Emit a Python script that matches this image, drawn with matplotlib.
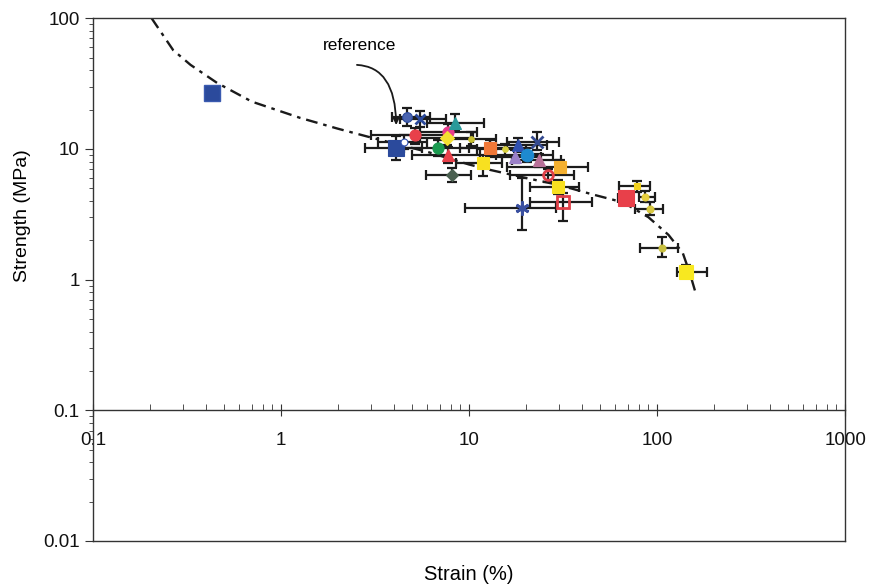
"""
Strength vs strain, log-log, with error bars and a dash-dot trend curve.
"""

import matplotlib
matplotlib.use("Agg")
import matplotlib.pyplot as plt
import matplotlib.ticker as mticker

# ── Data ──────────────────────────────────────────────────────────────────────

# lone point at low strain (no error bars)
SOLO_X = [0.43]
SOLO_Y = [27.0]

STRAIN   = [4.1, 4.7, 5.5, 5.16, 4.5, 6.8, 7.7, 8.4, 7.6, 7.7, 8.1, 12.9, 11.9, 10.3,
            15.5, 18.2, 23.0, 20.4, 17.6, 23.5, 30.5, 26.3, 29.7, 31.6, 19.1,
            68.0, 78.0, 86.0, 92.0, 106.0, 143.0]
STRENGTH = [10.1, 17.5, 17.0, 12.8, 11.3, 10.1, 13.5, 15.8, 12.1, 9.0, 6.3, 10.1, 7.8, 12.0,
            9.9, 10.7, 11.3, 9.0, 8.7, 8.2, 7.3, 6.3, 5.1, 3.9, 3.55,
            4.2, 5.2, 4.3, 3.45, 1.75, 1.15]
STRAIN_LO = [2.8, 3.9, 4.3, 3.0, 3.3, 4.5, 5.5, 6.0, 5.5, 5.0, 5.9, 9.0, 8.5, 7.5,
             11.0, 13.0, 16.0, 14.0, 12.5, 17.0, 16.0, 16.5, 21.0, 21.0, 9.5,
             62.0, 63.0, 80.0, 76.0, 81.0, 128.0]
STRAIN_HI = [5.6, 6.2, 7.5, 8.0, 6.0, 10.0, 11.0, 12.0, 10.5, 11.5, 10.3, 18.0, 15.0, 14.0,
             20.0, 26.0, 30.0, 28.0, 24.0, 31.0, 43.0, 36.0, 38.6, 45.0, 29.0,
             74.0, 92.0, 98.0, 107.0, 130.0, 184.0]
STRENGTH_LO = [8.2, 15.0, 14.8, 11.0, 10.0, 8.8, 12.0, 13.8, 10.8, 7.8, 5.6, 8.8, 6.2, 10.5,
               8.9, 9.5, 9.8, 8.0, 7.8, 7.3, 6.5, 5.6, 4.5, 2.8, 2.4,
               3.9, 4.7, 3.9, 3.1, 1.5, 1.02]
STRENGTH_HI = [12.5, 20.5, 19.5, 14.5, 12.8, 11.6, 15.5, 18.5, 13.5, 10.3, 7.1, 11.8, 9.0, 13.5,
               11.0, 12.2, 13.5, 10.2, 9.8, 9.2, 8.2, 7.0, 5.8, 4.6, 6.0,
               4.5, 5.7, 4.8, 3.9, 2.1, 1.3]
COLORS  = ["#2b4a9c", "#4a64b0", "#2b4a9c", "#e8404a", "#ffffff", "#1a9a50", "#e83c8c",
           "#2a9a9a", "#f4e030", "#e8404a", "#4a6050", "#f07838", "#f8e020", "#c8c030",
           "#d8d040", "#3050b0", "#354a90", "#1e8ad0", "#9a80c8", "#b87098", "#f4b030",
           "none", "#f8e020", "none", "#3a50a0",
           "#e8404a", "#f0d020", "#e8d040", "#d8c840", "#c8c040", "#f8e820"]
EDGES   = ["#2b4a9c", "#2b4a9c", "#2b4a9c", "#e8404a", "#3050b0", "#1a9a50", "#e83c8c",
           "#2a9a9a", "#f4e030", "#e8404a", "#4a6050", "#f07838", "#f8e020", "#c8c030",
           "#d8d040", "#3050b0", "#354a90", "#1e8ad0", "#9a80c8", "#b87098", "#f4b030",
           "#e04048", "#f8e020", "#e04048", "#3a50a0",
           "#e8404a", "#f0d020", "#e8d040", "#d8c840", "#c8c040", "#f8e820"]
MARKERS = ["s", "o", "x", "o", "o", "o", "o", "^", "D", "^", "D", "s", "s", "o",
           "o", "^", "x", "o", "^", "^", "s", "o", "s", "s", (6, 2, 0),
           "s", "s", "o", "o", "o", "s"]
SIZES   = [11, 7, 7, 8, 5, 8, 8, 8, 7, 8, 6, 8, 9, 4,
           4, 8, 8, 9, 8, 8, 9, 7, 8, 9, 10,
           12, 5, 5, 5, 5, 10]

# dash-dot trend curve
CURVE_X = [0.205, 0.267, 0.33, 0.457, 0.7, 1.26, 2.0, 2.9, 4.0, 6.0, 10.0, 13.0,
           20.0, 30.0, 45.0, 66.0, 90.0, 115.0, 137.0, 150.0, 160.0]
CURVE_Y = [100.0, 57.0, 44.0, 32.0, 23.0, 17.3, 14.3, 12.4, 11.0, 9.5, 7.6, 6.9,
           6.0, 5.3, 4.5, 3.9, 3.0, 2.2, 1.6, 1.1, 0.8]

X_TICKS = [0.1, 1, 10, 100, 1000]
Y_TICKS = [0.01, 0.1, 1, 10, 100]

AXIS_COLOR = "#333333"


def _setup_style() -> None:
    plt.rcParams.update({
        "font.family":       ["Liberation Sans", "DejaVu Sans"],
        "font.size":         13.5,
        "axes.edgecolor":    AXIS_COLOR,
        "axes.linewidth":    1.0,
        "xtick.color":       AXIS_COLOR,
        "ytick.color":       AXIS_COLOR,
        "xtick.labelcolor":  "#111111",
        "ytick.labelcolor":  "#111111",
        "figure.facecolor":  "white",
        "savefig.facecolor": "white",
    })


def make_figure() -> None:
    fig = plt.figure(figsize=(8.73, 5.88), dpi=100)
    ax = fig.add_axes([0.1065, 0.080, 0.8615, 0.889])
    ax.set_xscale("log")
    ax.set_yscale("log")
    ax.set_xlim(0.1, 1000)
    ax.set_ylim(0.01, 100)

    # x axis sits on y = 0.1, frame still closes at 0.01
    ax.spines["bottom"].set_position(("data", 0.1))
    ax.plot([0, 1], [0, 0], transform=ax.transAxes, color=AXIS_COLOR,
            lw=1.0, clip_on=False, zorder=5)

    # trend curve
    ax.plot(CURVE_X, CURVE_Y, color="#1a1a1a", lw=1.7,
            linestyle=(0, (5, 2.5, 1.5, 2.5)), zorder=2)

    # error bars first, then markers on top
    for i in range(len(STRAIN)):
        x, y = STRAIN[i], STRENGTH[i]
        ax.errorbar(
            x, y,
            xerr=[[x - STRAIN_LO[i]], [STRAIN_HI[i] - x]],
            yerr=[[y - STRENGTH_LO[i]], [STRENGTH_HI[i] - y]],
            fmt="none", ecolor="#1c1c1c", elinewidth=1.6,
            capsize=3.5, capthick=1.6, zorder=3,
        )
    for i in range(len(STRAIN)):
        mk = MARKERS[i]
        mew = 2.0 if mk in ("x", (6, 2, 0)) or COLORS[i] == "none" else 0.8
        ax.plot(STRAIN[i], STRENGTH[i], linestyle="none", marker=mk,
                ms=SIZES[i], markerfacecolor=COLORS[i],
                markeredgecolor=EDGES[i], markeredgewidth=mew, zorder=4)

    ax.plot(SOLO_X, SOLO_Y, linestyle="none", marker="s", ms=11,
            markerfacecolor="#2b4a9c", markeredgecolor="#3a5ab0", zorder=4)

    # label with curved arrow
    ax.text(2.63, 62, "reference", ha="center", va="center", fontsize=12.5)
    ax.annotate(
        "", xy=(4.1, 14.5), xytext=(2.45, 44),
        arrowprops=dict(arrowstyle="-|>", color="#1a1a1a", lw=1.3,
                        mutation_scale=9,
                        connectionstyle="angle3,angleA=0,angleB=90"),
        zorder=5,
    )

    # ticks
    fmt = mticker.FuncFormatter(lambda v, _: f"{v:g}")
    ax.xaxis.set_major_locator(mticker.FixedLocator(X_TICKS))
    ax.yaxis.set_major_locator(mticker.FixedLocator(Y_TICKS))
    ax.xaxis.set_major_formatter(fmt)
    ax.yaxis.set_major_formatter(fmt)
    ax.xaxis.set_minor_locator(mticker.LogLocator(base=10, subs=range(2, 10), numticks=20))
    ax.yaxis.set_minor_locator(mticker.LogLocator(base=10, subs=range(2, 10), numticks=20))
    ax.xaxis.set_minor_formatter(mticker.NullFormatter())
    ax.yaxis.set_minor_formatter(mticker.NullFormatter())
    ax.tick_params(axis="x", which="major", direction="inout", length=8, pad=12, labelsize=13.5)
    ax.tick_params(axis="x", which="minor", direction="in", length=4)
    ax.tick_params(axis="y", which="major", direction="out", length=6, labelsize=13.5)
    ax.tick_params(axis="y", which="minor", direction="out", length=3)

    ax.set_xlabel("Strain (%)", fontsize=14.5)
    ax.set_ylabel("Strength (MPa)", fontsize=14)
    ax.xaxis.set_label_coords(0.5, -0.046)
    ax.yaxis.set_label_coords(-0.083, 0.623)

    fig.savefig("out.png", dpi=100)
    plt.close(fig)


if __name__ == "__main__":
    _setup_style()
    make_figure()
